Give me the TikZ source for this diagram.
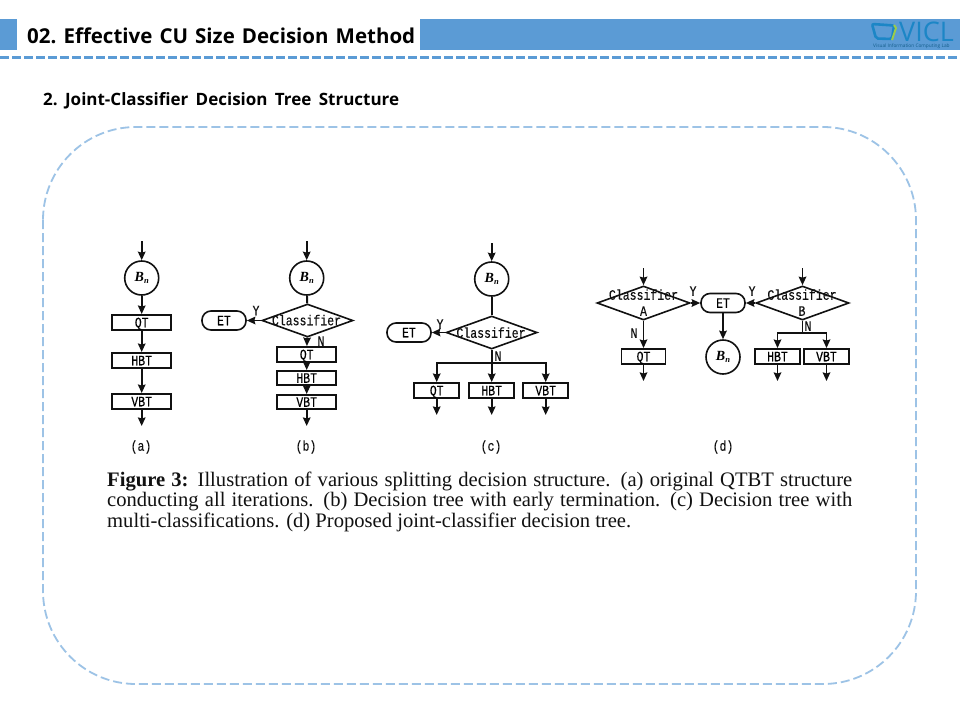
\documentclass[tikz,border=0pt]{standalone}
\usepackage{fontspec}
\setmainfont{Liberation Serif}
\newfontfamily\headfont{Open Sans}
\newfontfamily\monofont[FakeStretch=0.8,FakeBold=0.2]{Liberation Mono}
\usetikzlibrary{shapes.geometric,arrows.meta}
\definecolor{barblue}{HTML}{5B9BD5}
\definecolor{panelblue}{HTML}{9DC3E6}
\definecolor{logoblue}{HTML}{1C86C6}
\definecolor{logogreen}{HTML}{9CCB4A}
\definecolor{inkc}{HTML}{111111}
\tikzset{
  x=1pt,y=-1pt,
  wire/.style={line width=1.9pt,draw=inkc},
  flow/.style={wire,-{Stealth[length=8.5pt,width=7.5pt,inset=1pt]}},
  procbox/.style={draw=inkc,line width=1.9pt,rectangle,inner sep=0pt,minimum width=#1,minimum height=15pt,text height=9.5pt,text depth=0pt,font=\monofont\fontsize{14.4}{12}\selectfont},
  procbox/.default=59pt,
  termbox/.style={draw=inkc,line width=1.6pt,rectangle,rounded corners=9pt,inner sep=0pt,minimum width=44pt,minimum height=19pt,text height=9.5pt,text depth=0pt,font=\monofont\fontsize{14.4}{12}\selectfont},
  startnode/.style={draw=inkc,line width=1.6pt,circle,inner sep=0pt,minimum size=34pt,font=\bfseries\itshape\fontsize{14}{14}\selectfont},
  decide/.style={draw=inkc,line width=1.6pt,diamond,inner sep=0pt,aspect=2.75,minimum width=91pt,minimum height=33pt},
  tag/.style={inner sep=0pt,text=inkc,text height=9.5pt,text depth=0pt,font=\monofont\fontsize{14.4}{12}\selectfont},
  sublabel/.style={inner sep=0pt,text=inkc,font=\monofont\fontsize{14.4}{12}\selectfont},
}
\newcommand{\Bn}{B\raisebox{-1.5pt}{\fontsize{8.5}{8.5}\selectfont n}}
\begin{document}
\begin{tikzpicture}
\useasboundingbox (0,0) rectangle (960,720);
\fill[white] (0,0) rectangle (960,720);
% header
\fill[barblue] (0,19) rectangle (17,50);
\fill[barblue] (420,19) rectangle (960,50);
\draw[barblue,line width=3pt,dash pattern=on 9pt off 3pt] (0,57.5) -- (960,57.5);
\node[anchor=west,inner sep=0pt] (title) at (27,35.5) {\headfont\bfseries\fontsize{20.5}{22}\selectfont\hbox to 388pt{02.\hfil Effective\hfil CU\hfil Size\hfil Decision\hfil Method}};
\node[anchor=west,inner sep=0pt] (subtitle) at (43,101) {\headfont\bfseries\fontsize{17}{20}\selectfont\hbox to 356pt{2.\hfil Joint-Classifier\hfil Decision\hfil Tree\hfil Structure}};
% logo
\draw[logoblue,line width=2.6pt,rounded corners=2pt] (872,24) -- (894,25.5) -- (892,39) -- (876,38.5) -- cycle;
\draw[logogreen,line width=2pt] (894,25) -- (896,28) -- (892,40);
\node[inner sep=0pt,anchor=west,text=logoblue,text height=19pt,text depth=0pt] (logoname) at (899,32) {\headfont\fontsize{27}{24}\selectfont VICL};
\node[inner sep=0pt,anchor=west,text=logoblue!70!black,text height=3.6pt,text depth=0pt] (logosub) at (873,46) {\headfont\fontsize{4.8}{5}\selectfont Visual Information Computing Lab};
% panel
\draw[panelblue,line width=1.8pt,dash pattern=on 9pt off 4pt,rounded corners=93pt] (43,127) rectangle (916,684);
% (a)
\coordinate (ain) at (141.7,241);
\coordinate (aout) at (141.7,426);
\node[startnode] (ab) at (141.7,278) {\Bn};
\node[procbox] (aq) at (141.7,322.5) {QT};
\node[procbox] (ah) at (141.7,360.5) {HBT};
\node[procbox] (av) at (141.7,401.5) {VBT};
\draw[flow] (ain) -- (ab);
\draw[flow] (ab) -- (aq);
\draw[flow] (aq) -- (ah);
\draw[flow] (ah) -- (av);
\draw[flow] (av) -- (aout);
\node[sublabel] (acap) at (141,447) {(a)};
% (b)
\coordinate (bin) at (306.7,241);
\coordinate (bout) at (306.7,426);
\node[startnode] (bb) at (306.7,278) {\Bn};
\node[decide] (bd) at (307.5,320.5) {};
\node[tag] (bdt) at (306.5,320.5) {Classifier};
\node[termbox] (be) at (224,320.5) {ET};
\node[procbox] (bq) at (306.7,354.5) {QT};
\node[procbox,minimum height=14pt] (bh) at (306.7,378) {HBT};
\node[procbox,minimum height=14pt] (bv) at (306.7,402) {VBT};
\draw[flow] (bin) -- (bb);
\draw[wire] (bb) -- (bd);
\draw[flow] (bd.west) -- (be);
\draw[flow] (bd) -- (bq);
\draw[flow] (bq) -- (bh);
\draw[flow] (bh) -- (bv);
\draw[flow] (bv) -- (bout);
\node[tag] (by) at (256,310.5) {Y};
\node[tag] (bn) at (321,341) {N};
\node[sublabel] (bcap) at (306,447) {(b)};
% (c)
\coordinate (cin) at (491.7,243);
\node[startnode] (cb) at (491.7,279) {\Bn};
\node[decide] (cd) at (491.7,332.5) {};
\node[tag] (cdt) at (491,333) {Classifier};
\node[termbox] (ce) at (409,332.5) {ET};
\coordinate (cbus) at (491.7,363);
\node[procbox=45pt] (cq) at (436.7,390.5) {QT};
\node[procbox=45pt] (ch) at (491.7,390.5) {HBT};
\node[procbox=45pt] (cv) at (545.7,390.5) {VBT};
\coordinate (cqo) at (436.7,415);
\coordinate (cho) at (491.7,415);
\coordinate (cvo) at (545.7,415);
\draw[flow] (cin) -- (cb);
\draw[wire] (cb) -- (cd);
\draw[flow] (cd.west) -- (ce);
\draw[flow] (cd) -- (ch);
\draw[flow] (cbus) -| (cq);
\draw[flow] (cbus) -| (cv);
\draw[flow] (cq) -- (cqo);
\draw[flow] (ch) -- (cho);
\draw[flow] (cv) -- (cvo);
\node[tag] (cy) at (440,324) {Y};
\node[tag] (cn) at (498,356) {N};
\node[sublabel] (ccap) at (491,447) {(c)};
% (d)
\coordinate (din) at (643.5,268);
\coordinate (dinb) at (802.5,268);
\node[decide,minimum width=93pt,minimum height=34pt] (da) at (643.5,303) {};
\node[tag] (dat) at (643.5,295) {Classifier};
\node[tag] (dal) at (643.5,311) {A};
\node[decide,minimum width=93pt,minimum height=34pt] (db) at (802.5,303) {};
\node[tag] (dbt) at (802,295) {Classifier};
\node[tag] (dbl) at (802,311) {B};
\node[termbox] (de) at (723,303) {ET};
\node[startnode] (dc) at (723,357) {\Bn};
\node[procbox=44pt] (dq) at (643.5,356.5) {QT};
\node[procbox=45pt] (dh) at (777.5,356.5) {HBT};
\node[procbox=45pt] (dv) at (826.5,356.5) {VBT};
\coordinate (dbus) at (802.5,333);
\coordinate (dqo) at (643.5,381);
\coordinate (dho) at (777.5,381);
\coordinate (dvo) at (826.5,381);
\draw[flow] (din) -- (da);
\draw[flow] (dinb) -- (db);
\draw[flow] (da.east) -- (de);
\draw[flow] (db.west) -- (de);
\draw[flow] (de) -- (dc);
\draw[flow] (da) -- (dq);
\draw[wire] (db.south) -- (dbus);
\draw[flow] (dbus) -| (dh);
\draw[flow] (dbus) -| (dv);
\draw[flow] (dq) -- (dqo);
\draw[flow] (dh) -- (dho);
\draw[flow] (dv) -- (dvo);
\node[tag] (dya) at (693,291) {Y};
\node[tag] (dyb) at (752,291) {Y};
\node[tag] (dna) at (634,333) {N};
\node[tag] (dnb) at (808,326) {N};
\node[sublabel] (dcap) at (723,447) {(d)};
% caption
\node[anchor=base west,inner sep=0pt,text=inkc] (l1) at (107,486) {\fontsize{20.6}{20}\selectfont\hbox to 745pt{\textbf{Figure 3:} Illustration of various splitting decision structure. (a) original QTBT structure}};
\node[anchor=base west,inner sep=0pt,text=inkc] (l2) at (107,506) {\fontsize{20.6}{20}\selectfont\hbox to 745pt{conducting all iterations. (b) Decision tree with early termination. (c) Decision tree with}};
\node[anchor=base west,inner sep=0pt,text=inkc] (l3) at (107,527) {\fontsize{20.6}{20}\selectfont multi-classifications. (d) Proposed joint-classifier decision tree.};
\end{tikzpicture}
\end{document}
